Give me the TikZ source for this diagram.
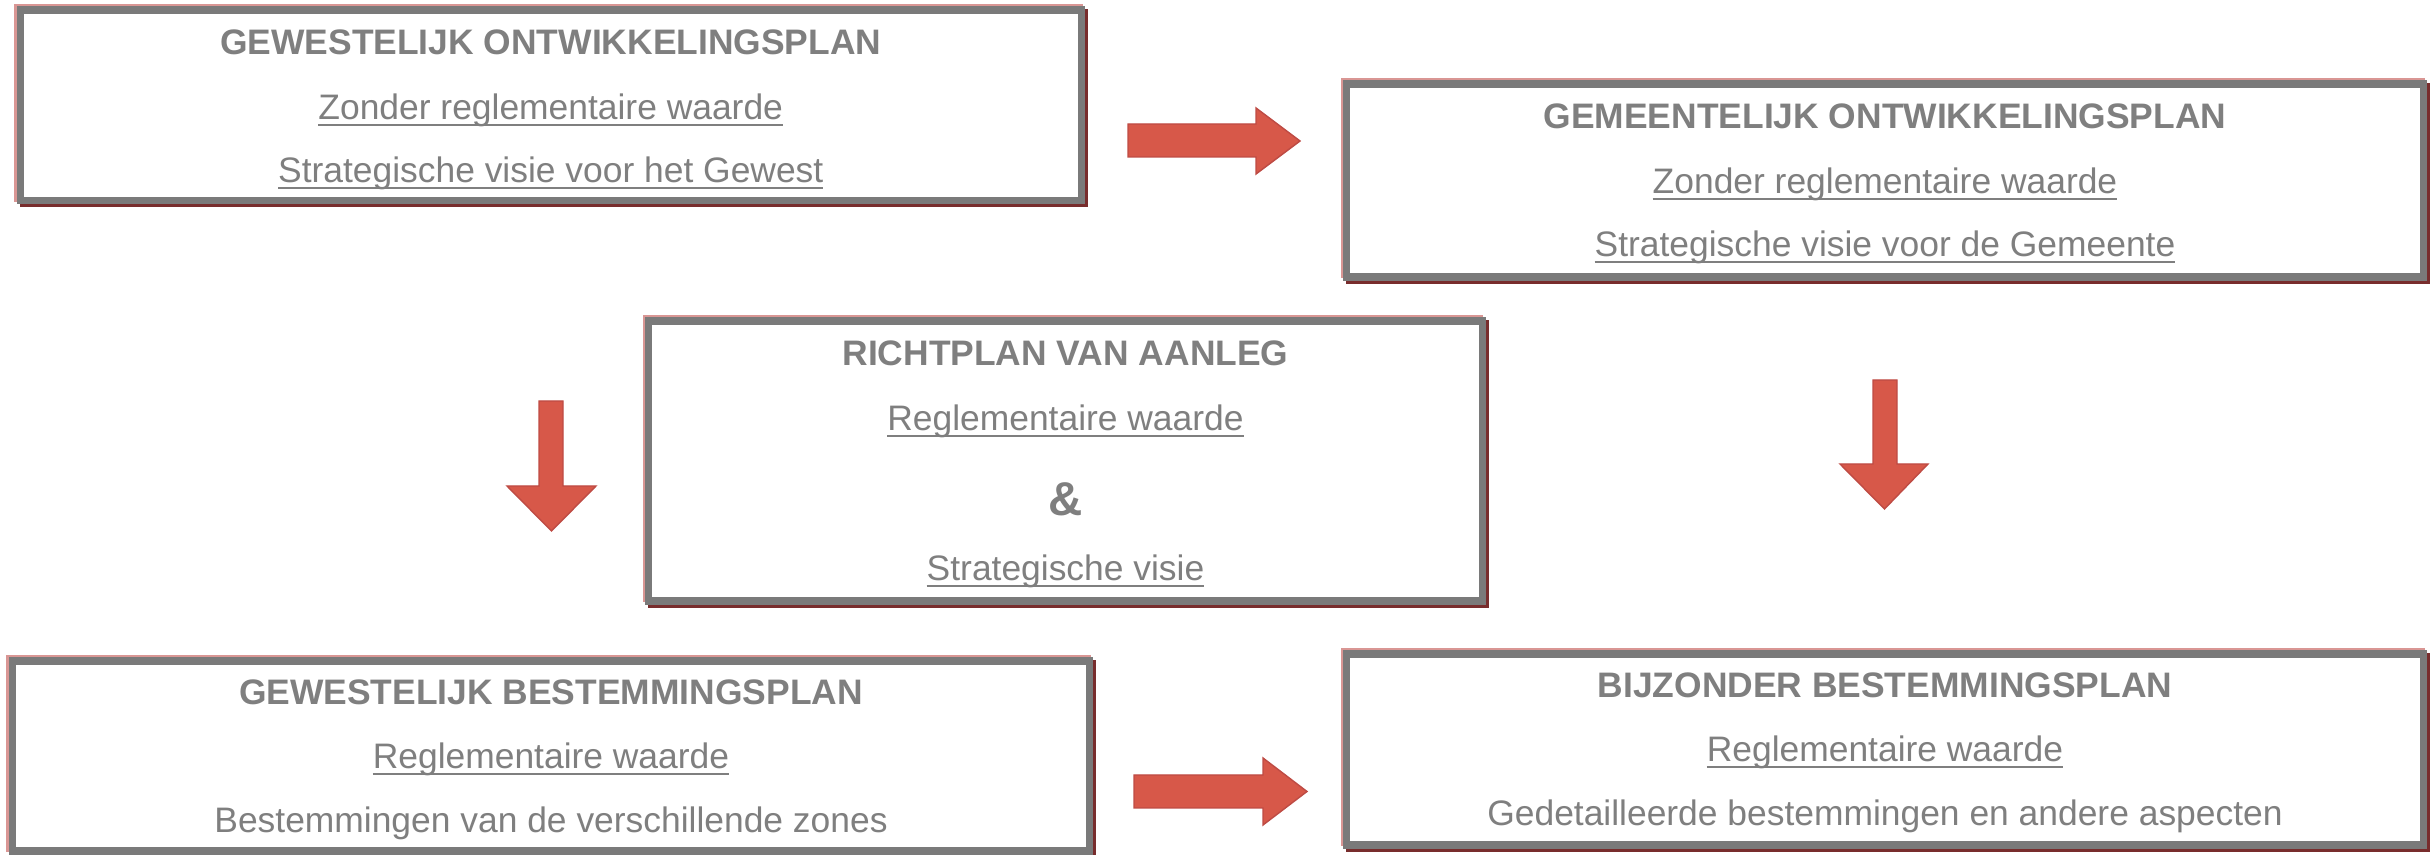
\documentclass[tikz,border=0pt]{standalone}
\usepackage{fontspec}
\setmainfont{Liberation Sans}
\usetikzlibrary{calc}
\definecolor{txtgray}{RGB}{127,127,127}
\definecolor{framegray}{RGB}{122,122,122}
\definecolor{pinkc}{RGB}{217,150,148}
\definecolor{darkredc}{RGB}{120,45,45}
\definecolor{arrowred}{RGB}{215,88,73}
\definecolor{arrowedge}{RGB}{190,75,68}
\newcommand\ulx[1]{\setbox0\hbox{#1}\rlap{\rule[-1.8pt]{\wd0}{0.55pt}}\box0}
\begin{document}
\begin{tikzpicture}[x=0.01cm,y=-0.01cm,
  planbox/.style={rectangle, inner sep=0pt, outer sep=0pt, draw=framegray, line width=2.1pt, fill=white,
    preaction={draw=darkredc, fill=darkredc, transform canvas={shift={(3,3)}}},
    preaction={draw=pinkc, fill=pinkc, transform canvas={shift={(-2.5,-2.5)}}}},
  txt/.style={anchor=base, inner sep=0pt, outer sep=0pt, text=txtgray, font=\fontsize{10.07pt}{12pt}\selectfont},
  ttl/.style={txt, font=\fontsize{10.07pt}{12pt}\selectfont\bfseries},
  amp/.style={txt, font=\fontsize{13.5pt}{16pt}\selectfont\bfseries},
  blockarrow/.style={fill=arrowred, draw=arrowedge, line width=0.4pt}]
\useasboundingbox (0,0) rectangle (2435,855);

% boxes
\node[planbox, minimum width=10.605cm, minimum height=1.905cm] (b1) at (550.75,105.25) {};
\node[planbox, minimum width=10.76cm, minimum height=1.93cm] (b2) at (1885,180.5) {};
\node[planbox, minimum width=8.33cm, minimum height=2.8cm] (b3) at (1065.5,461) {};
\node[planbox, minimum width=10.76cm, minimum height=1.9cm] (b4) at (551,756) {};
\node[planbox, minimum width=10.76cm, minimum height=1.91cm] (b5) at (1885,749.5) {};

% texts
\node[ttl] (t1a) at ($(b1.north)+(0,45)$) {GEWESTELIJK ONTWIKKELINGSPLAN};
\node[txt] (t1b) at ($(b1.north)+(0,110)$) {\ulx{Zonder reglementaire waarde}};
\node[txt] (t1c) at ($(b1.north)+(0,173)$) {\ulx{Strategische visie voor het Gewest}};

\node[ttl] (t2a) at ($(b2.north)+(0,45)$) {GEMEENTELIJK ONTWIKKELINGSPLAN};
\node[txt] (t2b) at ($(b2.north)+(0,110)$) {\ulx{Zonder reglementaire waarde}};
\node[txt] (t2c) at ($(b2.north)+(0,173)$) {\ulx{Strategische visie voor de Gemeente}};

\node[ttl] (t3a) at ($(b3.north)+(0,45)$) {RICHTPLAN VAN AANLEG};
\node[txt] (t3b) at ($(b3.north)+(0,110)$) {\ulx{Reglementaire waarde}};
\node[amp] (t3c) at ($(b3.north)+(0,195)$) {\&};
\node[txt] (t3d) at ($(b3.north)+(0,260)$) {\ulx{Strategische visie}};

\node[ttl] (t4a) at ($(b4.north)+(0,44)$) {GEWESTELIJK BESTEMMINGSPLAN};
\node[txt] (t4b) at ($(b4.north)+(0,108)$) {\ulx{Reglementaire waarde}};
\node[txt] (t4c) at ($(b4.north)+(0,172)$) {Bestemmingen van de verschillende zones};

\node[ttl] (t5a) at ($(b5.north)+(0,44)$) {BIJZONDER BESTEMMINGSPLAN};
\node[txt] (t5b) at ($(b5.north)+(0,108)$) {\ulx{Reglementaire waarde}};
\node[txt] (t5c) at ($(b5.north)+(0,172)$) {Gedetailleerde bestemmingen en andere aspecten};

% block arrows
\filldraw[blockarrow] (1128,124) -- (1256,124) -- (1256,108) -- (1300,141) -- (1256,174) -- (1256,157) -- (1128,157) -- cycle;
\filldraw[blockarrow] (1134,775) -- (1263,775) -- (1263,758) -- (1307,791.5) -- (1263,825) -- (1263,808) -- (1134,808) -- cycle;
\filldraw[blockarrow] (539,401) -- (563,401) -- (563,486) -- (596,486) -- (551.5,531) -- (507,486) -- (539,486) -- cycle;
\filldraw[blockarrow] (1873,380) -- (1897,380) -- (1897,464) -- (1928,464) -- (1884.5,509) -- (1840,464) -- (1873,464) -- cycle;
\end{tikzpicture}
\end{document}
